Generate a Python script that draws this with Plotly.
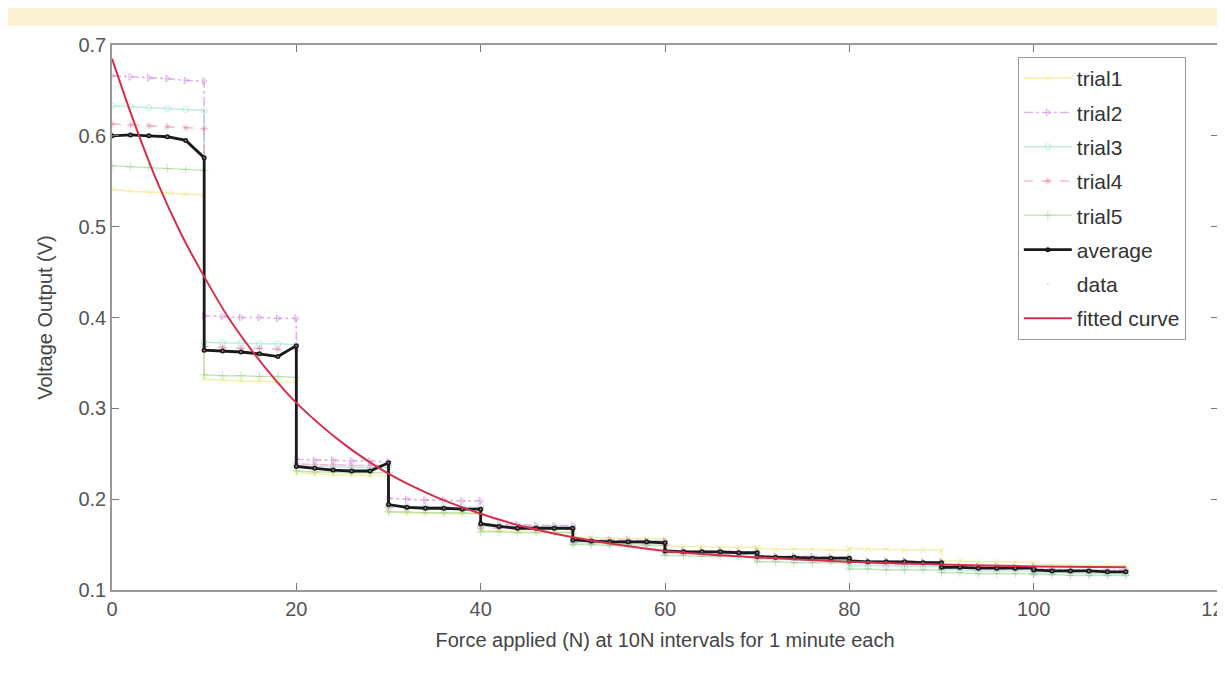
import plotly.graph_objects as go

# ---- data ----
interval_starts = [0, 10, 20, 30, 40, 50, 60, 70, 80, 90, 100]
sample_offsets = [0, 2, 4, 6, 8, 10]

trial1 = [
    [0.541, 0.539, 0.538, 0.537, 0.536, 0.535],
    [0.332, 0.331, 0.330, 0.330, 0.329, 0.329],
    [0.229, 0.228, 0.227, 0.227, 0.226, 0.226],
    [0.186, 0.185, 0.185, 0.184, 0.184, 0.184],
    [0.166, 0.165, 0.165, 0.164, 0.164, 0.164],
    [0.158, 0.158, 0.157, 0.157, 0.157, 0.156],
    [0.149, 0.148, 0.148, 0.147, 0.147, 0.147],
    [0.146, 0.145, 0.145, 0.145, 0.144, 0.144],
    [0.146, 0.145, 0.145, 0.144, 0.144, 0.144],
    [0.132, 0.132, 0.131, 0.131, 0.131, 0.130],
    [0.128, 0.128, 0.127, 0.127, 0.127, 0.127],
]
trial2 = [
    [0.666, 0.665, 0.664, 0.663, 0.661, 0.660],
    [0.402, 0.401, 0.400, 0.400, 0.399, 0.399],
    [0.244, 0.243, 0.243, 0.242, 0.242, 0.241],
    [0.201, 0.200, 0.199, 0.199, 0.198, 0.198],
    [0.173, 0.172, 0.172, 0.171, 0.171, 0.171],
    [0.156, 0.155, 0.155, 0.155, 0.154, 0.154],
    [0.144, 0.143, 0.143, 0.143, 0.142, 0.142],
    [0.138, 0.137, 0.137, 0.137, 0.136, 0.136],
    [0.133, 0.132, 0.132, 0.132, 0.131, 0.131],
    [0.127, 0.126, 0.126, 0.126, 0.125, 0.125],
    [0.123, 0.123, 0.122, 0.122, 0.122, 0.122],
]
trial3 = [
    [0.633, 0.632, 0.631, 0.630, 0.629, 0.628],
    [0.373, 0.372, 0.372, 0.371, 0.371, 0.370],
    [0.237, 0.236, 0.236, 0.235, 0.235, 0.235],
    [0.193, 0.192, 0.192, 0.191, 0.191, 0.191],
    [0.170, 0.170, 0.169, 0.169, 0.169, 0.168],
    [0.152, 0.152, 0.151, 0.151, 0.151, 0.151],
    [0.141, 0.141, 0.140, 0.140, 0.140, 0.140],
    [0.134, 0.134, 0.133, 0.133, 0.133, 0.133],
    [0.127, 0.127, 0.127, 0.126, 0.126, 0.126],
    [0.122, 0.122, 0.121, 0.121, 0.121, 0.121],
    [0.119, 0.119, 0.119, 0.118, 0.118, 0.118],
]
trial4 = [
    [0.613, 0.612, 0.611, 0.610, 0.609, 0.608],
    [0.368, 0.367, 0.366, 0.366, 0.365, 0.365],
    [0.239, 0.238, 0.238, 0.237, 0.237, 0.237],
    [0.191, 0.190, 0.190, 0.189, 0.189, 0.189],
    [0.168, 0.168, 0.167, 0.167, 0.167, 0.167],
    [0.152, 0.152, 0.152, 0.151, 0.151, 0.151],
    [0.141, 0.141, 0.141, 0.140, 0.140, 0.140],
    [0.135, 0.135, 0.134, 0.134, 0.134, 0.134],
    [0.130, 0.130, 0.129, 0.129, 0.129, 0.129],
    [0.124, 0.124, 0.124, 0.123, 0.123, 0.123],
    [0.121, 0.121, 0.120, 0.120, 0.120, 0.120],
]
trial5 = [
    [0.567, 0.566, 0.565, 0.564, 0.563, 0.562],
    [0.337, 0.336, 0.336, 0.335, 0.335, 0.334],
    [0.231, 0.230, 0.230, 0.229, 0.229, 0.229],
    [0.186, 0.186, 0.185, 0.185, 0.185, 0.184],
    [0.164, 0.164, 0.163, 0.163, 0.163, 0.163],
    [0.150, 0.150, 0.149, 0.149, 0.149, 0.149],
    [0.138, 0.138, 0.137, 0.137, 0.137, 0.137],
    [0.131, 0.131, 0.130, 0.130, 0.130, 0.130],
    [0.123, 0.123, 0.122, 0.122, 0.122, 0.122],
    [0.119, 0.119, 0.118, 0.118, 0.118, 0.118],
    [0.117, 0.117, 0.116, 0.116, 0.116, 0.116],
]
average = [
    [0.600, 0.601, 0.600, 0.599, 0.595, 0.576],
    [0.364, 0.363, 0.362, 0.360, 0.357, 0.369],
    [0.236, 0.234, 0.232, 0.231, 0.231, 0.240],
    [0.194, 0.191, 0.190, 0.190, 0.189, 0.189],
    [0.173, 0.170, 0.168, 0.168, 0.168, 0.168],
    [0.155, 0.154, 0.153, 0.153, 0.153, 0.152],
    [0.143, 0.142, 0.142, 0.142, 0.141, 0.141],
    [0.137, 0.136, 0.136, 0.135, 0.135, 0.135],
    [0.132, 0.131, 0.131, 0.131, 0.130, 0.130],
    [0.125, 0.125, 0.124, 0.124, 0.124, 0.124],
    [0.122, 0.121, 0.121, 0.121, 0.120, 0.120],
]
fit_x = [0, 2.5, 5, 7.5, 10, 12.5, 15, 17.5, 20, 25, 30, 35, 40, 45, 50, 60, 70, 80, 90, 100, 110]
fit_y = [0.685, 0.612, 0.547, 0.492, 0.445, 0.402, 0.366, 0.334, 0.306, 0.262, 0.228, 0.203,
         0.184, 0.169, 0.158, 0.143, 0.136, 0.131, 0.128, 0.126, 0.125]

x_ticks = [0, 20, 40, 60, 80, 100, 120]
y_ticks = [0.1, 0.2, 0.3, 0.4, 0.5, 0.6, 0.7]

# sample positions along the force axis
force_x = [s + o for s in interval_starts for o in sample_offsets]


def flat(rows):
    return [v for r in rows for v in r]


FONT = "Liberation Sans, Arial, sans-serif"
fig = go.Figure()

trial_styles = [
    ("trial1", trial1, "rgba(232,228,110,0.55)", "solid", "x-thin", 1.5),
    ("trial2", trial2, "rgba(200,130,215,0.6)", "dashdot", "triangle-right-open", 1.6),
    ("trial3", trial3, "rgba(140,220,205,0.55)", "solid", "circle-open", 1.5),
    ("trial4", trial4, "rgba(228,140,180,0.6)", "dash", "asterisk-open", 1.5),
    ("trial5", trial5, "rgba(150,210,140,0.55)", "solid", "cross-thin", 1.5),
]
for name, rows, col, dash, sym, w in trial_styles:
    fig.add_trace(go.Scatter(
        x=force_x, y=flat(rows), name=name, mode="lines+markers", legendgroup=name,
        line=dict(color=col, width=w, dash=dash),
        marker=dict(symbol=sym, size=6, color=col, line=dict(color=col, width=1)),
    ))

fig.add_trace(go.Scatter(
    x=force_x, y=flat(average), name="average", mode="lines+markers", legendgroup="average",
    line=dict(color="#1a1a1a", width=2.8),
    marker=dict(symbol="circle", size=5, color="#1a1a1a"),
))
fig.add_trace(go.Scatter(
    x=force_x, y=flat(average), name="data", mode="markers", legendgroup="data",
    marker=dict(symbol="circle", size=2, color="rgba(200,200,200,0.6)"),
))
fig.add_trace(go.Scatter(
    x=fit_x, y=fit_y, name="fitted curve", mode="lines", legendgroup="fit",
    line=dict(color="#d42f4f", width=2, shape="spline"),
))

# page has an 8px body margin, so the figure is offset by 8px in the photo
fig.update_layout(
    width=1217, height=667,
    paper_bgcolor="white", plot_bgcolor="white",
    margin=dict(l=104, r=7, t=37, b=85),
    font=dict(family=FONT, color="#444444", size=19),
    showlegend=True,
    legend=dict(
        x=0.819, y=0.978, xanchor="left", yanchor="top",
        bgcolor="white", bordercolor="#9a9a9a", borderwidth=1,
        font=dict(family=FONT, size=21, color="#333333"),
        tracegroupgap=4, itemwidth=48,
    ),
    shapes=[dict(type="rect", xref="paper", yref="paper", x0=-0.2, x1=1.2,
                 y0=1.035, y1=1.2, fillcolor="rgba(250,225,160,0.45)", line=dict(width=0),
                 layer="below")],
)
fig.update_xaxes(
    range=[0, 120], tickvals=x_ticks, ticktext=[str(v) for v in x_ticks],
    ticks="inside", ticklen=7, tickcolor="#777", showgrid=False, zeroline=False,
    showline=True, linecolor="#9a9a9a", linewidth=1.5, mirror="ticks",
    tickfont=dict(size=20, color="#555"), ticklabeloverflow="allow", automargin=False,
    title=dict(text="Force applied (N) at 10N intervals for 1 minute each",
               font=dict(size=20, color="#444"), standoff=14),
)
fig.update_yaxes(
    range=[0.1, 0.7], tickvals=y_ticks, ticktext=[f"{v:.1f}" for v in y_ticks],
    ticks="inside", ticklen=7, tickcolor="#777", showgrid=False, zeroline=False,
    showline=True, linecolor="#9a9a9a", linewidth=1.5, mirror="ticks",
    tickfont=dict(size=20, color="#555"), automargin=False,
    title=dict(text="Voltage Output (V)", font=dict(size=20, color="#444"), standoff=20),
)

fig.write_html("out.html")
